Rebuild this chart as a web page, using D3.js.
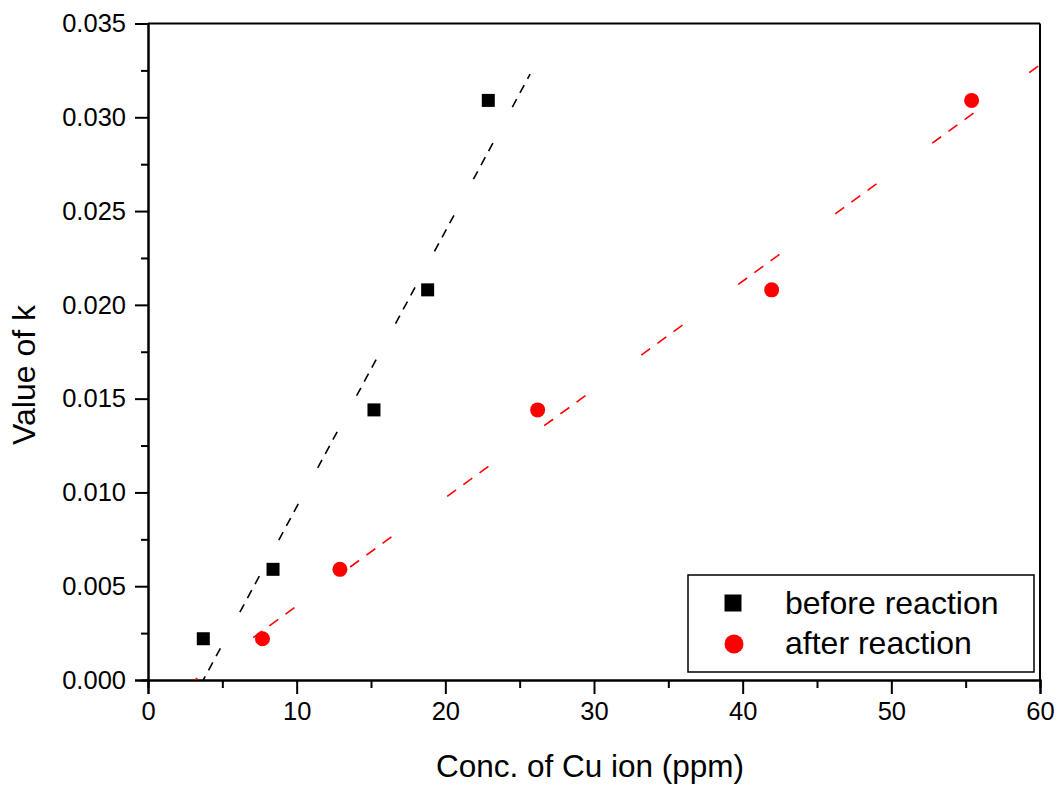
<!DOCTYPE html>
<html>
<head>
<meta charset="utf-8">
<script src="https://cdn.jsdelivr.net/npm/d3@7"></script>
<style>
  body { margin: 0; background: #fff; }
  text { font-family: "Liberation Sans", Arial, sans-serif; fill: #000; }
</style>
</head>
<body>
<script>
// data
var concBefore = [3.72, 8.41, 15.20, 18.81, 22.89];
var concAfter = [7.70, 12.91, 26.21, 41.95, 55.40];
var kValues = [0.0022, 0.0059, 0.0144, 0.0208, 0.0309];
// fitted lines, end points as drawn
var fitBefore = [[3.72, 0], [25.7, 0.0323]];
var fitAfter = [[3.16, 0], [60, 0.0328]];
var xTicks = [0, 10, 20, 30, 40, 50, 60];
var xMinor = [5, 15, 25, 35, 45, 55];
var yTicks = [0, 0.005, 0.010, 0.015, 0.020, 0.025, 0.030, 0.035];
var yMinor = [0.0025, 0.0075, 0.0125, 0.0175, 0.0225, 0.0275, 0.0325];
var legendLabels = ["before reaction", "after reaction"];

var width = 1059, height = 787;
var margin = { top: 23.5, right: 19, bottom: 107, left: 148 };

var svg = d3.select("body").append("svg")
    .attr("width", width)
    .attr("height", height);

var x = d3.scaleLinear().domain([0, 60]).range([margin.left, width - margin.right]);
var y = d3.scaleLinear().domain([0, 0.035]).range([height - margin.bottom, margin.top]);

// clip for the fit lines
svg.append("clipPath").attr("id", "plotclip")
    .append("rect")
    .attr("x", x(0)).attr("y", y(0.035))
    .attr("width", x(60) - x(0)).attr("height", y(0) - y(0.035));

function styleAxis(g) {
    g.selectAll("path").attr("stroke", "#000").attr("stroke-width", 2);
    g.selectAll("line").attr("stroke", "#000").attr("stroke-width", 2);
    g.selectAll("text").style("font-size", "25.5px")
        .style("font-family", "'Liberation Sans', Arial, sans-serif");
}

// frame (top and right)
svg.append("line")
    .attr("x1", x(0)).attr("x2", x(60))
    .attr("y1", y(0.035)).attr("y2", y(0.035))
    .attr("stroke", "#000").attr("stroke-width", 2);
svg.append("line")
    .attr("x1", x(60)).attr("x2", x(60))
    .attr("y1", y(0.035)).attr("y2", y(0))
    .attr("stroke", "#000").attr("stroke-width", 2);

// minor ticks
svg.append("g")
    .attr("transform", "translate(0," + y(0) + ")")
    .call(d3.axisBottom(x).tickValues(xMinor).tickSize(8).tickFormat(""))
    .call(styleAxis);
svg.append("g")
    .attr("transform", "translate(" + x(0) + ",0)")
    .call(d3.axisLeft(y).tickValues(yMinor).tickSize(7).tickFormat(""))
    .call(styleAxis);

// major axes
var xAxis = svg.append("g")
    .attr("transform", "translate(0," + y(0) + ")")
    .call(d3.axisBottom(x).tickValues(xTicks).tickSize(14).tickPadding(8).tickFormat(d3.format("d")))
    .call(styleAxis);
var yAxis = svg.append("g")
    .attr("transform", "translate(" + x(0) + ",0)")
    .call(d3.axisLeft(y).tickValues(yTicks).tickSize(13).tickPadding(9).tickFormat(d3.format(".3f")))
    .call(styleAxis);

// fit lines
var line = d3.line().x(function (d) { return x(d[0]); }).y(function (d) { return y(d[1]); });
svg.append("path")
    .datum(fitBefore)
    .attr("d", line)
    .attr("clip-path", "url(#plotclip)")
    .attr("fill", "none")
    .attr("stroke", "#000")
    .attr("stroke-width", 1.6)
    .attr("stroke-dasharray", "9,7,9,7,9,41")
    .attr("stroke-dashoffset", 5);
svg.append("path")
    .datum(fitAfter)
    .attr("d", line)
    .attr("clip-path", "url(#plotclip)")
    .attr("fill", "none")
    .attr("stroke", "#ff0000")
    .attr("stroke-width", 1.6)
    .attr("stroke-dasharray", "11,9,11,9,11,69")
    .attr("stroke-dashoffset", 48);

// markers
svg.selectAll(".sq")
    .data(concBefore)
    .enter().append("rect")
    .attr("class", "sq")
    .attr("x", function (d) { return x(d) - 6.5; })
    .attr("y", function (d, i) { return y(kValues[i]) - 6.5; })
    .attr("width", 13)
    .attr("height", 13)
    .attr("fill", "#000");
svg.selectAll(".dot")
    .data(concAfter)
    .enter().append("circle")
    .attr("class", "dot")
    .attr("cx", function (d) { return x(d); })
    .attr("cy", function (d, i) { return y(kValues[i]); })
    .attr("r", 7.5)
    .attr("fill", "#ff0000");

// axis titles
svg.append("text")
    .attr("x", 590)
    .attr("y", 777)
    .attr("text-anchor", "middle")
    .style("font-size", "31.5px")
    .text("Conc. of Cu ion (ppm)");
svg.append("text")
    .attr("transform", "translate(35," + 375 + ") rotate(-90)")
    .attr("text-anchor", "middle")
    .style("font-size", "32px")
    .text("Value of k");

// legend
var legend = svg.append("g");
legend.append("rect")
    .attr("x", 688).attr("y", 575)
    .attr("width", 346).attr("height", 97)
    .attr("fill", "#fff")
    .attr("stroke", "#000")
    .attr("stroke-width", 1.5);
legend.append("rect")
    .attr("x", 733 - 8.5).attr("y", 603 - 8.5)
    .attr("width", 17).attr("height", 17)
    .attr("fill", "#000");
legend.append("circle")
    .attr("cx", 734).attr("cy", 644)
    .attr("r", 9.5)
    .attr("fill", "#ff0000");
legend.selectAll(".lt")
    .data(legendLabels)
    .enter().append("text")
    .attr("class", "lt")
    .attr("x", 785)
    .attr("y", function (d, i) { return 614 + i * 40; })
    .style("font-size", "32px")
    .text(function (d) { return d; });
</script>
</body>
</html>
